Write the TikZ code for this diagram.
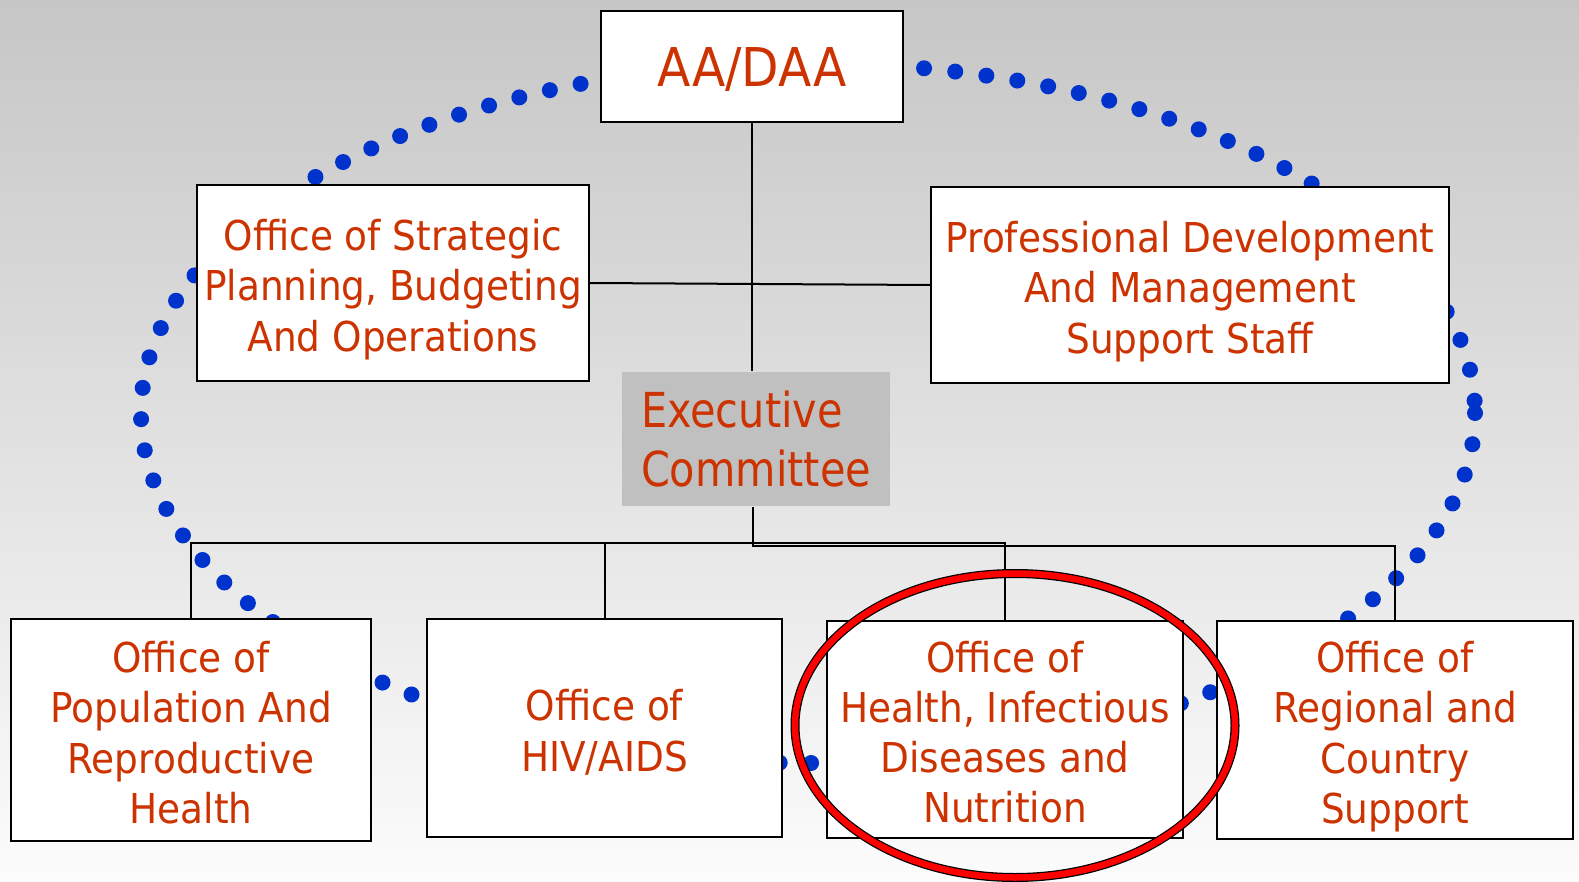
\documentclass[tikz,border=0pt]{standalone}
\usepackage{fontspec}
\usepackage{xcolor}
\usepackage{tikz}
\newfontfamily\orgfont[FakeStretch=0.91]{DejaVu Sans}
\newfontfamily\execfont[FakeStretch=0.86]{DejaVu Sans}
\definecolor{orgred}{RGB}{204,51,0}
\definecolor{dotblue}{RGB}{0,51,204}
\definecolor{execgray}{RGB}{192,192,192}
% struts so every box sets its lines at the same height
\newcommand{\capstrut}{\rule{0pt}{13.2pt}}
\newcommand{\footstrut}{\rule[-3pt]{0pt}{3pt}}
\tikzset{
  office/.style={draw=black, line width=0.02cm, fill=white, align=center,
    text=orgred, inner sep=0pt, font=\orgfont\fontsize{11.7}{14.3}\selectfont},
  link/.style={line width=0.02cm},
  dotring/.style={draw=dotblue, line width=0.16cm, line cap=round,
    dash pattern=on 0pt off 0.3134cm},
}

\begin{document}
\begin{tikzpicture}[x=0.01cm,y=-0.01cm]
      \useasboundingbox (0,0) rectangle (1579,882);
      \shade[top color={rgb,255:red,198;green,198;blue,198}, bottom color={rgb,255:red,252;green,252;blue,252}] (0,0) rectangle (1579,882);
      % dotted ring behind the boxes
      \draw[dotring] (808,413) ellipse [x radius=667, y radius=350];
      % boxes
      \node[office, minimum width=3.02cm, minimum height=1.11cm, font=\orgfont\fontsize{15.2}{18}\selectfont] (aa) at (752,66.5) {\rule{0pt}{12.7pt}AA/DAA};
      \node[office, minimum width=3.92cm, minimum height=1.96cm] (osp) at (393,283) {\capstrut Office of Strategic\\Planning, Budgeting\\And Operations\footstrut};
      \node[office, minimum width=5.18cm, minimum height=1.96cm] (pdm) at (1190,285) {\capstrut Professional Development\\And Management\\Support Staff\footstrut};
      \node[fill=execgray, text=orgred, align=left, inner sep=0pt, minimum width=2.68cm, minimum height=1.34cm, font=\execfont\fontsize{13.7}{16.8}\selectfont] (exec) at (756,439) {Executive\\Committee};
      \node[office, minimum width=3.60cm, minimum height=2.22cm] (pop) at (191,730) {\capstrut Office of\\Population And\\Reproductive\\Health\footstrut};
      \node[office, minimum width=3.55cm, minimum height=2.18cm] (hiv) at (604.5,728) {\capstrut Office of\\HIV/AIDS\footstrut};
      \node[office, minimum width=3.56cm, minimum height=2.17cm] (hid) at (1005,729.5) {\capstrut Office of\\Health, Infectious\\Diseases and\\Nutrition\footstrut};
      \node[office, minimum width=3.56cm, minimum height=2.18cm] (rcs) at (1395,730) {\capstrut Office of\\Regional and\\Country\\Support\footstrut};
      % connectors
      \coordinate (hub) at (753,546);
      \coordinate (barl) at (191,543);
      \draw[link] (aa.south) -- (aa.south |- exec.north);
      \draw[link] (osp.east) -- (pdm.west);
      \draw[link] (hub |- exec.south) -- (hub) -| (rcs.north);
      \draw[link] (pop.north) -- (barl) -- (barl -| hid.north) -- (hid.north);
      \draw[link] (hiv.north) -- (hiv.north |- barl);
      % highlight
      \draw[black, line width=0.09cm] (1015,725.5) ellipse [x radius=220, y radius=152];
      \draw[red, line width=0.065cm] (1015,725.5) ellipse [x radius=220, y radius=152];
    \end{tikzpicture}
\end{document}
